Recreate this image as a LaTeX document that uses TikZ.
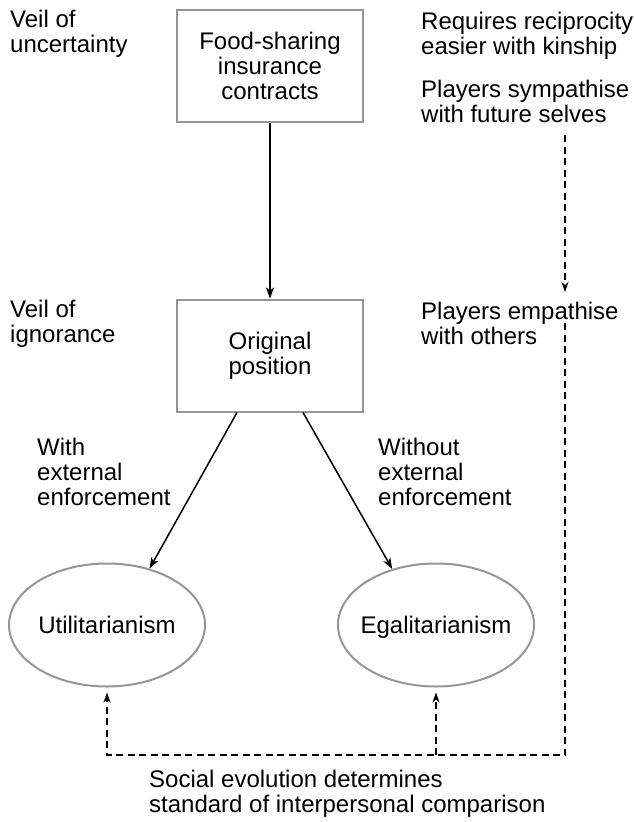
\documentclass[tikz,border=0pt]{standalone}
\usepackage{fontspec}
\setmainfont{Liberation Sans}
\usetikzlibrary{shapes.geometric,arrows.meta}
\definecolor{boxgray}{RGB}{150,150,150}
\begin{document}
\begin{tikzpicture}[x=1pt,y=-1pt,
  txt/.style={font=\fontsize{24}{25}\selectfont, inner sep=0pt},
  lbl/.style={txt, align=left, anchor=north west},
  boxnode/.style={txt, draw=boxgray, line width=2pt, minimum width=186pt, minimum height=112pt, align=center},
  ell/.style={txt, ellipse, draw=boxgray, line width=2pt, minimum width=196pt, minimum height=123pt, inner xsep=-20pt, inner ysep=0pt, text height=17pt, text depth=0pt},
  arr/.style={line width=1.5pt, -{Stealth[length=11pt,width=8pt,inset=3pt]}},
  darr/.style={line width=1.5pt, dash pattern=on 7pt off 4.5pt, -{Stealth[length=10pt,width=7pt,inset=3pt]}},
]
\useasboundingbox (0,0) rectangle (634,822);

% boxes and ellipses
\node[boxnode] (fs) at (270,66) {Food-sharing\\insurance\\contracts};
\node[boxnode] (op) at (270,355.5) {Original\\position};
\node[ell] (ut) at (107,625) {Utilitarianism};
\node[ell] (eg) at (436,625) {Egalitarianism};

% labels
\node[lbl] (vu) at (10,10) {Veil of\\uncertainty};
\node[lbl] (vi) at (10,300) {Veil of\\ignorance};
\node[lbl] (rr) at (421,12) {Requires reciprocity\\easier with kinship};
\node[lbl] (ps) at (421,80) {Players sympathise\\with future selves};
\node[lbl] (pe) at (421,302) {Players empathise\\with others};
\node[lbl] (we) at (37,438) {With\\external\\enforcement};
\node[lbl] (woe) at (378,438) {Without\\external\\enforcement};
\node[lbl] (se) at (149,770) {Social evolution determines\\standard of interpersonal comparison};

% solid arrows
\draw[arr] (fs) -- (op);
\draw[arr] ([xshift=-33pt]op.south) -- (ut.53);
\draw[arr] ([xshift=33pt]op.south) -- (eg.128);

% dashed connectors
\coordinate (d1) at (565,135);
\coordinate (d2) at (565,292);
\coordinate (d3) at (565,323);
\coordinate (c) at (565,755);
\draw[darr] (d1) -- (d2);
\draw[darr, shorten >=5pt] (d3) -- (c) -- (ut.south |- c) -- (ut.south);
\draw[darr, shorten >=5pt] (eg.south |- c) -- (eg.south);
\end{tikzpicture}
\end{document}
